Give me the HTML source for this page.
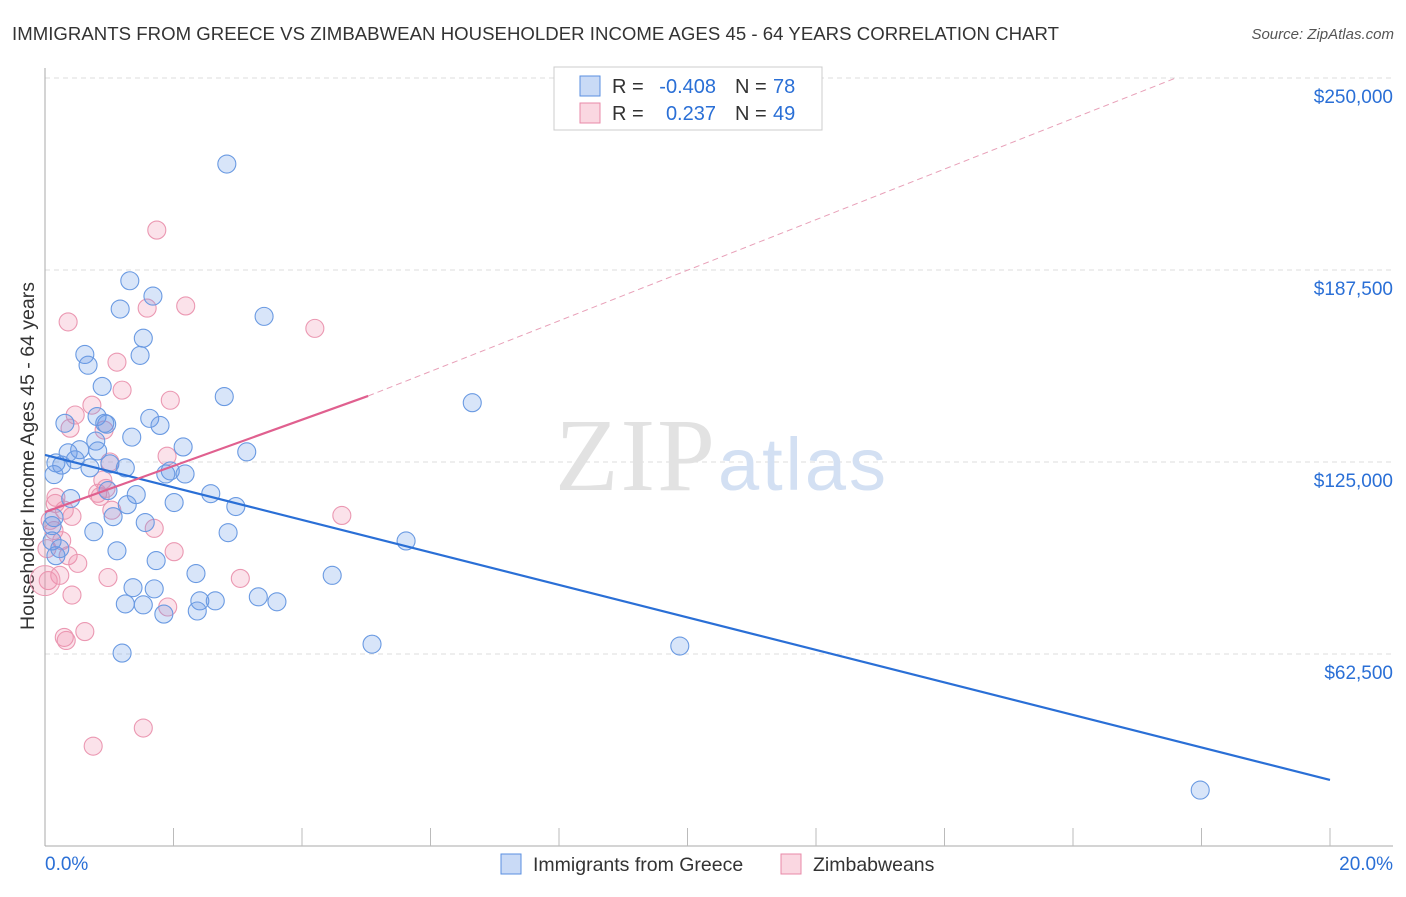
<!DOCTYPE html>
<html><head><meta charset="utf-8"><style>
body{margin:0;background:#fff;font-family:"Liberation Sans",sans-serif}
</style></head><body>
<svg id="c" width="1406" height="892" xmlns="http://www.w3.org/2000/svg" font-family="Liberation Sans, sans-serif">
<text x="12" y="40" font-size="18.6" fill="#333" textLength="1047">IMMIGRANTS FROM GREECE VS ZIMBABWEAN HOUSEHOLDER INCOME AGES 45 - 64 YEARS CORRELATION CHART</text>
<text x="1394" y="39" font-size="15" fill="#555" text-anchor="end" font-style="italic">Source: ZipAtlas.com</text>
<text transform="translate(34,456) rotate(-90)" font-size="19.5" fill="#333" text-anchor="middle">Householder Income Ages 45 - 64 years</text>
<g id="grid"></g>
<text x="555" y="490" font-size="104" fill="#e2e2e2" font-family="Liberation Serif, serif" textLength="160">ZIP</text>
<text x="718" y="490" font-size="74" fill="#d3e0f3" textLength="168">atlas</text>
<g id="marks"></g>
<g>
<rect x="554" y="67" width="268" height="63" fill="#fff" stroke="#ccc"/>
<rect x="580" y="76" width="20" height="20" fill="rgba(100,150,230,0.35)" stroke="#5a8fe0"/>
<rect x="580" y="103" width="20" height="20" fill="rgba(240,140,170,0.35)" stroke="#e88aa8"/>
<text x="612" y="93" font-size="20" fill="#333">R =</text>
<text x="716" y="93" font-size="20" fill="#2a6fd6" text-anchor="end">-0.408</text>
<text x="735" y="93" font-size="20" fill="#333">N =</text>
<text x="773" y="93" font-size="20" fill="#2a6fd6">78</text>
<text x="612" y="120" font-size="20" fill="#333">R =</text>
<text x="716" y="120" font-size="20" fill="#2a6fd6" text-anchor="end">0.237</text>
<text x="735" y="120" font-size="20" fill="#333">N =</text>
<text x="773" y="120" font-size="20" fill="#2a6fd6">49</text>
</g>
<g>
<rect x="501" y="854" width="20" height="20" fill="rgba(100,150,230,0.35)" stroke="#5a8fe0"/>
<text x="533" y="871" font-size="19.5" fill="#333">Immigrants from Greece</text>
<rect x="781" y="854" width="20" height="20" fill="rgba(240,140,170,0.35)" stroke="#e88aa8"/>
<text x="813" y="871" font-size="19.5" fill="#333">Zimbabweans</text>
</g>
<text x="45" y="870" font-size="19" fill="#2a6fd6">0.0%</text>
<text x="1393" y="870" font-size="19" fill="#2a6fd6" text-anchor="end">20.0%</text>
</svg>
<script>
const yTicks=[62500,125000,187500,250000];
const yTickLabels=["$62,500","$125,000","$187,500","$250,000"];
const blueX=[2.83,1.32,1.68,1.17,3.41,1.53,0.62,1.48,0.67,0.89,2.79,6.65,0.81,1.63,1.79,0.31,0.96,0.79,1.35,2.15,0.54,0.36,0.82,3.14,0.17,0.47,0.26,1.01,1.25,0.7,1.95,1.88,2.18,0.14,0.98,1.42,0.4,2.58,2.01,2.97,1.28,1.06,0.14,1.56,0.76,2.85,0.11,5.62,1.12,0.17,1.73,4.47,2.35,1.37,1.7,2.41,2.65,3.32,3.61,1.25,1.53,2.37,1.85,5.09,9.88,1.2,17.98,0.11,0.23,0.93];
const blueY=[222000,184000,179000,174800,172400,165300,160000,159700,156500,149600,146300,144300,139800,139200,136900,137600,137300,131800,133100,129900,129000,128000,128600,128300,124700,125700,124000,124400,123100,123100,122100,121100,121100,120900,115700,114400,113100,114700,111800,110500,111100,107200,106900,105300,102300,102000,99300,99300,96100,94500,92900,88100,88700,84100,83700,79800,79800,81100,79500,78800,78500,76500,75500,65700,65100,62800,18200,104300,96800,137600];
const pinkX=[1.74,2.19,0.36,1.59,4.2,1.12,1.2,1.95,0.73,0.47,0.39,0.92,1.9,1.01,0.9,0.82,0.95,1.04,0.17,0.42,0.08,0.3,0.14,0.26,0.03,0.36,1.7,4.62,2.01,0.98,0.51,3.04,0.42,1.91,0.23,0.62,0.3,0.33,1.53,0.75,0.05,0.86,0.16];
const pinkY=[200500,175800,170600,175100,168500,157500,148400,145100,143500,140300,136000,135400,126900,125000,119100,114800,116400,109300,113500,107300,106000,109300,102700,99400,96800,94500,103400,107600,95800,87400,92000,87100,81700,77800,88100,69800,67900,66900,38400,32500,86400,113800,111500];
const NS='http://www.w3.org/2000/svg';
const X0=45,X1=1330,Y0=846,YP=192/62500;
const xs=v=>X0+v/20*(X1-X0), ys=v=>Y0-v*YP;
const grid=document.getElementById('grid'), marks=document.getElementById('marks');
function mk(tag,at,par){const e=document.createElementNS(NS,tag);for(const k in at)e.setAttribute(k,at[k]);par.appendChild(e);return e;}
yTicks.forEach((t,i)=>{
 const l=mk('line',{x1:X0,x2:1393,y1:ys(t),y2:ys(t),stroke:'#ddd','stroke-dasharray':'5,4'},grid);
 
 
 const tx=mk('text',{x:1393,y:ys(t)+25,'font-size':19,fill:'#2a6fd6','text-anchor':'end'},grid);
 tx.textContent=yTickLabels[i];
 
 
});
const ax=mk('line',{x1:X0,x2:X0,y1:68,y2:Y0,stroke:'#aaa'},grid);


const bx=mk('line',{x1:X0,x2:1393,y1:Y0,y2:Y0,stroke:'#aaa'},grid);


for(let i=1;i<=10;i++){const t=mk('line',{x1:xs(i*2),x2:xs(i*2),y1:828,y2:Y0,stroke:'#bbb'},grid);
 
 }
function pts(X,Y,fill,stroke,name){X.forEach((x,i)=>{const c=mk('circle',{cx:xs(x),cy:ys(Y[i]),r:9,fill:fill,stroke:stroke,'stroke-width':1.1},marks);
 
 });}
pts(pinkX,pinkY,'rgba(240,140,170,0.25)','#eb98b2','zimbabwean-point');
const big=mk('circle',{cx:xs(0),cy:ys(86400),r:15,fill:'rgba(240,140,170,0.25)',stroke:'#eb98b2'},marks);


pts(blueX,blueY,'rgba(100,150,230,0.25)','#6a9ae2','greece-point');
const bl=mk('line',{x1:xs(0),y1:ys(127300),x2:xs(20),y2:ys(21500),stroke:'#2a6fd6','stroke-width':2.2},marks);


const pl=mk('line',{x1:xs(0),y1:ys(108700),x2:xs(5.03),y2:ys(146500),stroke:'#e0608f','stroke-width':2.2},marks);


const pd=mk('line',{x1:xs(5.03),y1:ys(146500),x2:xs(17.6),y2:ys(250000),stroke:'#e8a0b8','stroke-width':1,'stroke-dasharray':'6,4'},marks);


</script>
</body></html>
